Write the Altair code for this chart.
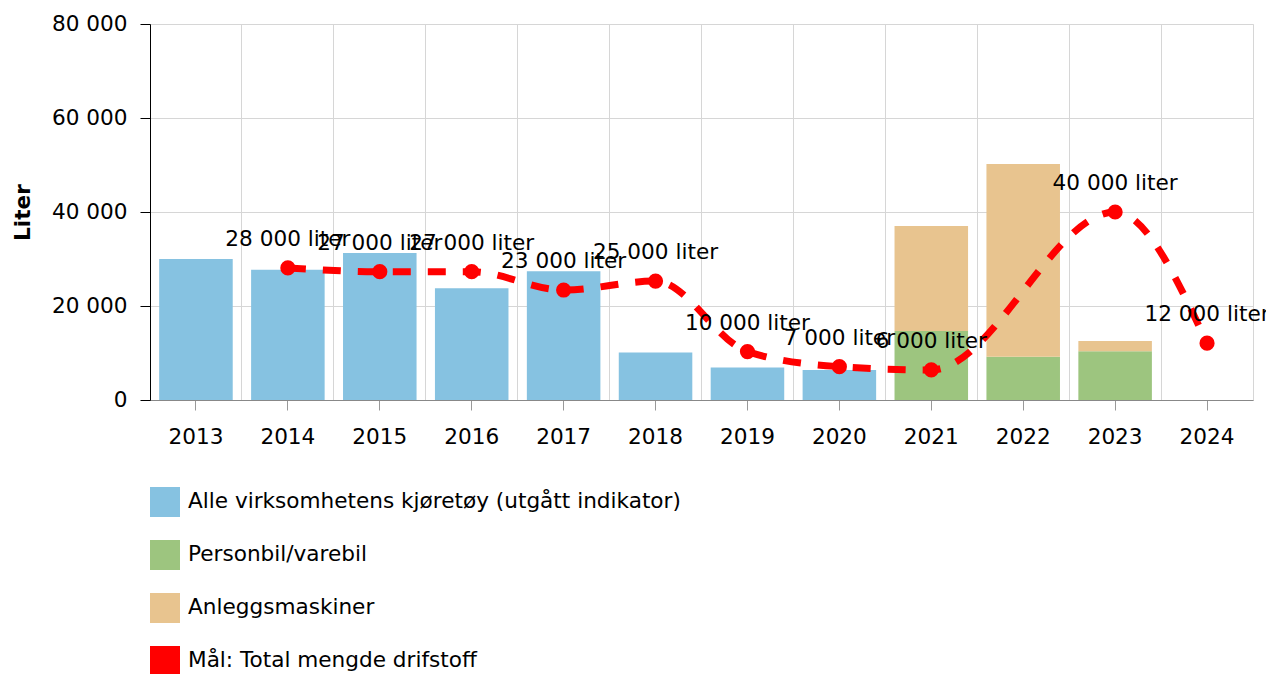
import altair as alt
import pandas as pd

FONT = "DejaVu Sans"
FS = 21.6

years = [str(y) for y in range(2013, 2025)]
series = [
    "Alle virksomhetens kjøretøy (utgått indikator)",
    "Personbil/varebil",
    "Anleggsmaskiner",
    "Mål: Total mengde drifstoff",
]
colors = ["#86c2e1", "#9dc57f", "#e8c48f", "#ff0000"]

alle = [30000, 27700, 31300, 23800, 27400, 10100, 6900, 6400, None, None, None, None]
personbil = [None, None, None, None, None, None, None, None, 14700, 9200, 10350, None]
anlegg = [None, None, None, None, None, None, None, None, 22300, 41000, 2200, None]
mal = [None, 28100, 27300, 27300, 23400, 25300, 10300, 7100, 6400, None, 40000, 12100]
mal_labels = [None, "28 000 liter", "27 000 liter", "27 000 liter", "23 000 liter",
              "25 000 liter", "10 000 liter", "7 000 liter", "6 000 liter", None,
              "40 000 liter", "12 000 liter"]
y_ticks = [0, 20000, 40000, 60000, 80000]

rows = []
for i, y in enumerate(years):
    for k, vals in enumerate([alle, personbil, anlegg]):
        if vals[i] is not None:
            rows.append({"year": y, "series": series[k], "value": vals[i], "order": k})
bar_df = pd.DataFrame(rows)

line_df = pd.DataFrame([
    {"year": y, "value": mal[i], "label": mal_labels[i]}
    for i, y in enumerate(years) if mal[i] is not None
])

x_scale = alt.Scale(domain=years, paddingInner=0, paddingOuter=0)
y_scale = alt.Scale(domain=[0, 80000], nice=False)
y_axis = alt.Axis(
    values=y_ticks,
    labelExpr="replace(format(datum.value, ','), ',', ' ')",
    title="Liter",
    titleFont=FONT, titleFontSize=FS, titleFontWeight="bold", titleColor="#000",
    titlePadding=17,
    labelFont=FONT, labelFontSize=FS, labelColor="#000", labelPadding=13,
    tickSize=10, tickColor="#000", domainColor="#000",
    grid=True, gridColor="#d6d6d6",
)

bars = alt.Chart(bar_df).mark_bar(width=alt.RelativeBandSize(0.8)).encode(
    x=alt.X("year:O", scale=x_scale, axis=alt.Axis(
        orient="bottom", title=None, grid=False, labelAngle=0, tickSize=10,
        labelPadding=16, tickColor="#999", domainColor="#888",
        labelFont=FONT, labelFontSize=FS, labelColor="#000")),
    y=alt.Y("value:Q", stack="zero", scale=y_scale, axis=y_axis),
    color=alt.Color("series:N", scale=alt.Scale(domain=series, range=colors),
                    legend=alt.Legend(
                        title=None, orient="none", legendX=0, legendY=463,
                        direction="vertical", symbolType="square", symbolSize=900,
                        symbolStrokeWidth=0, labelFont=FONT, labelFontSize=FS,
                        labelColor="#000", labelLimit=1000, rowPadding=23,
                        labelOffset=8, padding=0)),
    order=alt.Order("order:Q", sort="ascending"),
)

line = alt.Chart(line_df).mark_line(
    color="#ff0000", strokeWidth=7, strokeDash=[18, 17], interpolate="monotone"
).encode(
    x=alt.X("year:O", scale=x_scale, axis=alt.Axis(
        orient="top", grid=True, bandPosition=0, labels=False, ticks=False,
        domain=False, title=None, gridColor="#d6d6d6")),
    y=alt.Y("value:Q", scale=y_scale, axis=y_axis),
)

points = alt.Chart(line_df).mark_point(
    filled=True, size=230, color="#ff0000", opacity=1
).encode(
    x=alt.X("year:O", scale=x_scale, axis=None),
    y=alt.Y("value:Q", scale=y_scale, axis=y_axis),
)

labels = alt.Chart(line_df).mark_text(
    dy=-28, font=FONT, fontSize=FS, color="#000", baseline="middle", align="center"
).encode(
    x=alt.X("year:O", scale=x_scale, axis=None),
    y=alt.Y("value:Q", scale=y_scale, axis=y_axis),
    text="label:N",
)

chart = alt.layer(bars, line, points, labels).resolve_axis(x="independent").properties(
    width=1103, height=376,
    autosize=alt.AutoSizeParams(type="none"),
    padding={"left": 142, "top": 16, "right": 13, "bottom": 274},
).configure_view(stroke="#d6d6d6", strokeWidth=1)

chart.save("out.html", embed_options={"renderer": "svg", "actions": False})
